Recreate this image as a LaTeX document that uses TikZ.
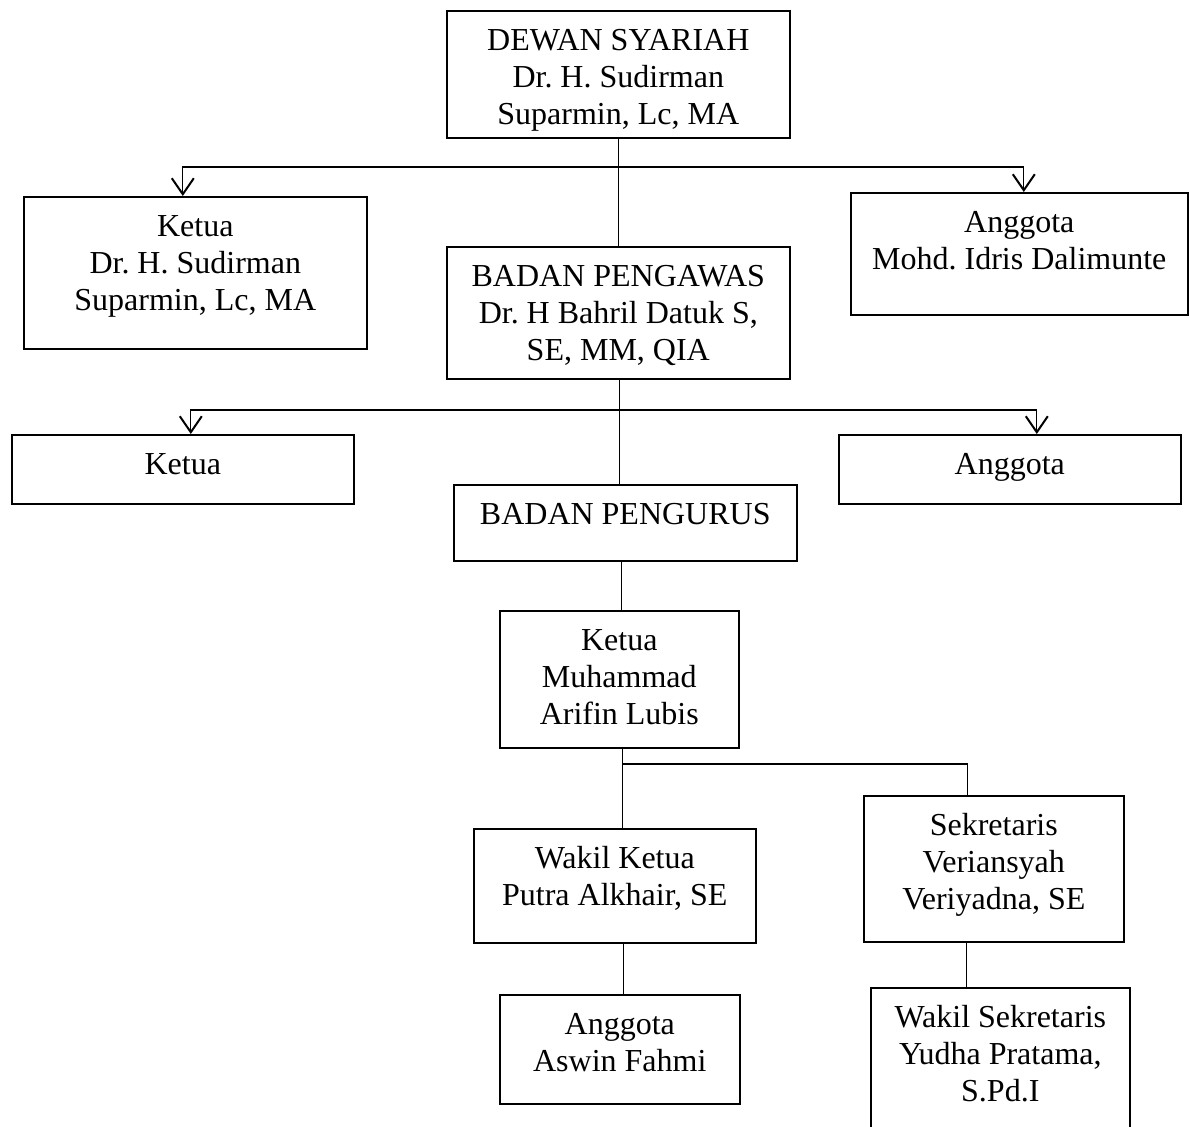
\documentclass[tikz,border=0pt]{standalone}
\usepackage{fontspec}
\setmainfont{Liberation Serif}
\usetikzlibrary{arrows.meta}
\frenchspacing
\newcommand{\orgtext}[3]{\parbox[c][#2pt][t]{#1pt}{\centering\rule{0pt}{40pt}#3}}
\begin{document}
\begin{tikzpicture}[x=1pt,y=-1pt,
  orgbox/.style={draw, line width=1.6pt, inner sep=0pt, anchor=north west, font=\fontsize{32}{36.8}\selectfont},
  conn/.style={line width=1.3pt},
  tip/.style={conn, -{Straight Barb[length=16pt,width=22pt,line width=2pt]}}]
\useasboundingbox (0,0) rectangle (1189,1127);
\clip (0,0) rectangle (1189,1127);
% boxes
\node[orgbox] (dewan) at (446,10) {\orgtext{343}{127}{DEWAN SYARIAH\\Dr. H. Sudirman\\Suparmin, Lc, MA}};
\node[orgbox] (ketuaA) at (23,196) {\orgtext{343}{152}{Ketua\\Dr. H. Sudirman\\Suparmin, Lc, MA}};
\node[orgbox] (anggotaA) at (850,192) {\orgtext{337}{122}{Anggota\\Mohd. Idris Dalimunte}};
\node[orgbox] (pengawas) at (446,246) {\orgtext{343}{132}{BADAN PENGAWAS\\Dr. H Bahril Datuk S,\\SE, MM, QIA}};
\node[orgbox] (ketuaB) at (11,434) {\orgtext{342}{69}{Ketua}};
\node[orgbox] (anggotaB) at (838,434) {\orgtext{342}{69}{Anggota}};
\node[orgbox] (pengurus) at (453,484) {\orgtext{343}{76}{BADAN PENGURUS}};
\node[orgbox] (ketuaM) at (499,610) {\orgtext{239}{137}{Ketua\\Muhammad\\Arifin Lubis}};
\node[orgbox] (wakil) at (473,828) {\orgtext{282}{114}{Wakil Ketua\\Putra Alkhair, SE}};
\node[orgbox] (sekr) at (863,795) {\orgtext{260}{146}{Sekretaris\\Veriansyah\\Veriyadna, SE}};
\node[orgbox] (anggotaC) at (499,994) {\orgtext{240}{109}{Anggota\\Aswin Fahmi}};
\node[orgbox] (wakilS) at (870,987) {\orgtext{259}{175}{Wakil Sekretaris\\Yudha Pratama,\\S.Pd.I}};
% hubs
\coordinate (hubA) at (617.5,167);
\coordinate (hubB) at (619,410);
\coordinate (hubC) at (622,764);
% connectors
\draw[conn] (dewan.south) -- (pengawas.north);
\draw[tip] (hubA) -| ([xshift=-12.5pt]ketuaA.north);
\draw[tip] (hubA) -| ([xshift=4.5pt]anggotaA.north);
\draw[conn] ([xshift=1.5pt]pengawas.south) -- ([xshift=1.5pt]pengawas.south |- pengurus.north);
\draw[tip] (hubB) -| ([xshift=8pt]ketuaB.north);
\draw[tip] (hubB) -| ([xshift=27pt]anggotaB.north);
\draw[conn] ([xshift=-3.5pt]pengurus.south) -- ([xshift=-3.5pt]pengurus.south |- ketuaM.north);
\draw[conn] ([xshift=3.5pt]ketuaM.south) -- ([xshift=3.5pt]ketuaM.south |- wakil.north);
\draw[conn] (hubC) -| ([xshift=-26pt]sekr.north);
\draw[conn] ([xshift=9pt]wakil.south) -- ([xshift=9pt]wakil.south |- anggotaC.north);
\draw[conn] ([xshift=-27pt]sekr.south) -- ([xshift=-27pt]sekr.south |- wakilS.north);
\end{tikzpicture}
\end{document}
